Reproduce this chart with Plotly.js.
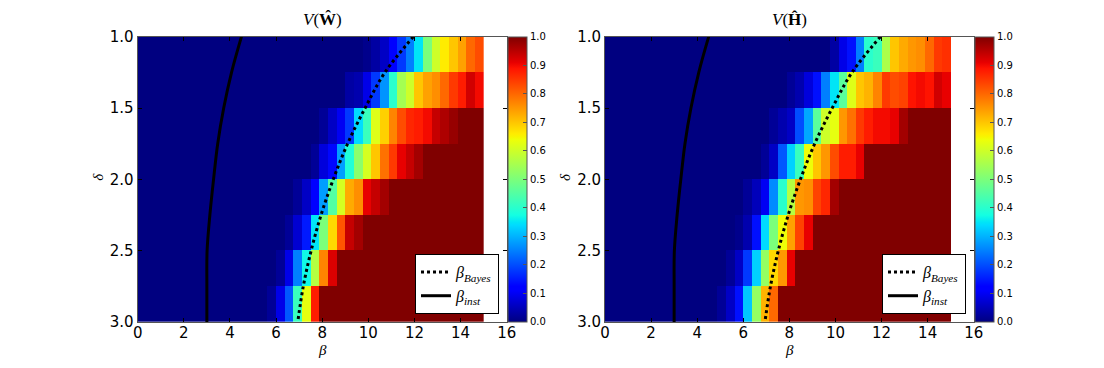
<!DOCTYPE html>
<html>
<head>
<meta charset="utf-8">
<script src="https://cdn.plot.ly/plotly-3.0.1.min.js"></script>
<style>
  body { margin: 0; background: white; }
  #plotArea { width: 1104px; height: 368px; }
</style>
</head>
<body>
<div id="plotArea"></div>
<script>
// values of V(W^) : 8 rows of delta (1.0 -> 3.0, step 0.25), 40 columns of beta (0 -> 15)
var vW = [
  [0,0,0,0,0,0,0,0,0,0, 0,0,0,0,0,0,0,0,0,0, 0,0,0,0,0,0,0.01,0.03,0.06,0.12, 0.18,0.25,0.35,0.5,0.6,0.66,0.7,0.74,0.8,0.83],
  [0,0,0,0,0,0,0,0,0,0, 0,0,0,0,0,0,0,0,0,0, 0,0,0,0,0.03,0.04,0.09,0.18,0.27,0.4, 0.55,0.6,0.7,0.74,0.76,0.8,0.85,0.88,0.93,0.9],
  [0,0,0,0,0,0,0,0,0,0, 0,0,0,0,0,0,0,0,0,0, 0,0.02,0.06,0.1,0.18,0.34,0.42,0.62,0.69,0.77, 0.83,0.87,0.88,0.9,0.94,0.96,0.98,1,1,1],
  [0,0,0,0,0,0,0,0,0,0, 0,0,0,0,0,0,0,0,0,0, 0.02,0.08,0.13,0.28,0.39,0.52,0.61,0.7,0.79,0.85, 0.91,0.94,0.97,1,1,1,1,1,1,1],
  [0,0,0,0,0,0,0,0,0,0, 0,0,0,0,0,0,0,0,0.02,0.06, 0.12,0.28,0.45,0.61,0.73,0.76,0.91,0.94,0.97,1, 1,1,1,1,1,1,1,1,1,1],
  [0,0,0,0,0,0,0,0,0,0, 0,0,0,0,0,0,0,0.02,0.07,0.15, 0.35,0.5,0.68,0.82,0.94,0.97,1,1,1,1, 1,1,1,1,1,1,1,1,1,1],
  [0,0,0,0,0,0,0,0,0,0, 0,0,0,0,0,0,0.02,0.09,0.25,0.37, 0.57,0.77,0.92,1,1,1,1,1,1,1, 1,1,1,1,1,1,1,1,1,1],
  [0,0,0,0,0,0,0,0,0,0, 0,0,0,0,0,0.02,0.09,0.21,0.42,0.63, 0.88,1,1,1,1,1,1,1,1,1, 1,1,1,1,1,1,1,1,1,1]
];
// values of V(H^)
var vH = [
  [0,0,0,0,0,0,0,0,0,0, 0,0,0,0,0,0,0,0,0,0, 0,0,0,0,0,0,0.03,0.09,0.14,0.25, 0.4,0.42,0.56,0.7,0.73,0.75,0.76,0.8,0.85,0.86],
  [0,0,0,0,0,0,0,0,0,0, 0,0,0,0,0,0,0,0,0,0, 0,0.02,0.04,0.08,0.14,0.25,0.35,0.46,0.62,0.7, 0.72,0.77,0.85,0.83,0.84,0.89,0.9,0.89,0.93,0.91],
  [0,0,0,0,0,0,0,0,0,0, 0,0,0,0,0,0,0,0,0,0.02, 0.04,0.06,0.2,0.29,0.46,0.6,0.63,0.75,0.79,0.85, 0.88,0.9,0.9,0.91,0.97,1,1,1,1,1],
  [0,0,0,0,0,0,0,0,0,0, 0,0,0,0,0,0,0,0,0.02,0.06, 0.21,0.33,0.42,0.64,0.7,0.75,0.83,0.88,0.88,0.91, 1,1,1,1,1,1,1,1,1,1],
  [0,0,0,0,0,0,0,0,0,0, 0,0,0,0,0,0,0.02,0.05,0.1,0.26, 0.4,0.57,0.75,0.76,0.84,0.87,0.97,1,1,1, 1,1,1,1,1,1,1,1,1,1],
  [0,0,0,0,0,0,0,0,0,0, 0,0,0,0,0,0.01,0.04,0.14,0.34,0.5, 0.64,0.74,0.84,0.91,1,1,1,1,1,1, 1,1,1,1,1,1,1,1,1,1],
  [0,0,0,0,0,0,0,0,0,0, 0,0,0,0,0.02,0.06,0.18,0.33,0.53,0.68, 0.75,0.91,1,1,1,1,1,1,1,1, 1,1,1,1,1,1,1,1,1,1],
  [0,0,0,0,0,0,0,0,0,0, 0,0,0,0.02,0.06,0.14,0.32,0.53,0.72,0.8, 1,1,1,1,1,1,1,1,1,1, 1,1,1,1,1,1,1,1,1,1]
];
// threshold curves
var deltaLine = [1.0, 1.25, 1.5, 1.75, 2.0, 2.25, 2.5, 2.75, 3.0];
var betaBayes = [11.95, 10.72, 9.86, 9.1, 8.48, 7.95, 7.52, 7.18, 6.94];
var betaInst = [4.5, 4.07, 3.73, 3.47, 3.29, 3.13, 3.01, 3.0, 3.0];
var titles = ['<i>V</i>(<b>Ŵ</b>)', '<i>V</i>(<b>Ĥ</b>)'];

// matplotlib jet
var jet = [[0,'rgb(0,0,128)'],[0.11,'rgb(0,0,255)'],[0.125,'rgb(0,0,255)'],[0.34,'rgb(0,219,255)'],
  [0.35,'rgb(0,229,247)'],[0.375,'rgb(20,255,226)'],[0.64,'rgb(238,255,8)'],[0.65,'rgb(247,245,0)'],
  [0.66,'rgb(255,236,0)'],[0.89,'rgb(255,19,0)'],[0.91,'rgb(232,0,0)'],[1,'rgb(128,0,0)']];

var tickFont = {family: 'DejaVu Sans', size: 15, color: 'black'};

function cbar(x) {
  return {x: x, xanchor: 'left', xpad: 0, ypad: 0, thickness: 19,
    len: 285, lenmode: 'pixels', y: 0.5127, yanchor: 'middle',
    outlinewidth: 1, outlinecolor: '#555',
    tick0: 0, dtick: 0.1, tickformat: '.1f', ticks: 'inside', ticklen: 4, tickcolor: '#555',
    tickfont: {family: 'DejaVu Sans', size: 10, color: 'black'}};
}

function heat(z, xa, ya, cbx) {
  return {type: 'heatmap', z: z, x0: 0.1875, dx: 0.375, y0: 1.125, dy: 0.25,
    zmin: 0, zmax: 1, colorscale: jet, zsmooth: false, xaxis: xa, yaxis: ya,
    colorbar: cbar(cbx), hoverinfo: 'skip'};
}

function curve(xs, name, dash, xa, ya, leg) {
  return {type: 'scatter', mode: 'lines', x: xs, y: deltaLine, name: name,
    line: {color: 'black', width: 3, dash: dash, shape: 'spline', smoothing: 1},
    xaxis: xa, yaxis: ya, legend: leg, showlegend: true};
}

var data = [
  heat(vW, 'x', 'y', 0.4604),
  curve(betaBayes, '<i>β<sub>Bayes</sub></i>', 'dot', 'x', 'y', 'legend'),
  curve(betaInst, '<i>β<sub>inst</sub></i>', 'solid', 'x', 'y', 'legend'),
  heat(vH, 'x2', 'y2', 0.8832),
  curve(betaBayes, '<i>β<sub>Bayes</sub></i>', 'dot', 'x2', 'y2', 'legend2'),
  curve(betaInst, '<i>β<sub>inst</sub></i>', 'solid', 'x2', 'y2', 'legend2')
];

function xax(dom, anchor) {
  return {domain: dom, anchor: anchor, range: [0, 16], tick0: 0, dtick: 2,
    ticks: 'inside', ticklen: 4, tickcolor: 'black', showline: true, mirror: 'ticks',
    linecolor: '#555', linewidth: 1, showgrid: false, zeroline: false,
    tickfont: tickFont, ticklabelstandoff: -3};
}
function yax(anchor) {
  return {domain: [0.125, 0.9003], anchor: anchor, range: [3, 1], tick0: 1, dtick: 0.5,
    tickformat: '.1f', ticks: 'inside', ticklen: 4, tickcolor: 'black', showline: true,
    mirror: 'ticks', linecolor: '#555', linewidth: 1, showgrid: false, zeroline: false,
    tickfont: tickFont, ticklabelstandoff: 0};
}

var legendStyle = {xanchor: 'right', yanchor: 'bottom', y: 0.1467, bgcolor: 'white',
  bordercolor: 'black', borderwidth: 1, tracegroupgap: 0,
  font: {family: 'Liberation Serif', size: 16, color: 'black'}};

function label(text, x, y, angle, size, ya) {
  return {text: text, x: x, y: y, xref: 'paper', yref: 'paper', showarrow: false,
    xanchor: 'center', yanchor: ya, textangle: angle,
    font: {family: 'Liberation Serif', size: size, color: 'black'}};
}

var layout = {
  width: 1104, height: 368,
  margin: {l: 0, r: 0, t: 0, b: 0},
  paper_bgcolor: 'white', plot_bgcolor: 'white',
  xaxis: xax([0.1247, 0.4590], 'y'),
  yaxis: yax('x'),
  xaxis2: xax([0.548, 0.882], 'y2'),
  yaxis2: yax('x2'),
  legend: Object.assign({x: 0.452}, legendStyle),
  legend2: Object.assign({x: 0.875}, legendStyle),
  annotations: [
    label(titles[0], 0.2918, 0.9158, 0, 17, 'bottom'),
    label(titles[1], 0.715, 0.9158, 0, 17, 'bottom'),
    label('<i>β</i>', 0.2918, 0.05, 0, 15, 'middle'),
    label('<i>β</i>', 0.715, 0.05, 0, 15, 'middle'),
    label('<i>δ</i>', 0.0885, 0.5190, -90, 15, 'middle'),
    label('<i>δ</i>', 0.5118, 0.5190, -90, 15, 'middle')
  ]
};

Plotly.newPlot('plotArea', data, layout, {displayModeBar: false, staticPlot: true});
</script>
</body>
</html>
